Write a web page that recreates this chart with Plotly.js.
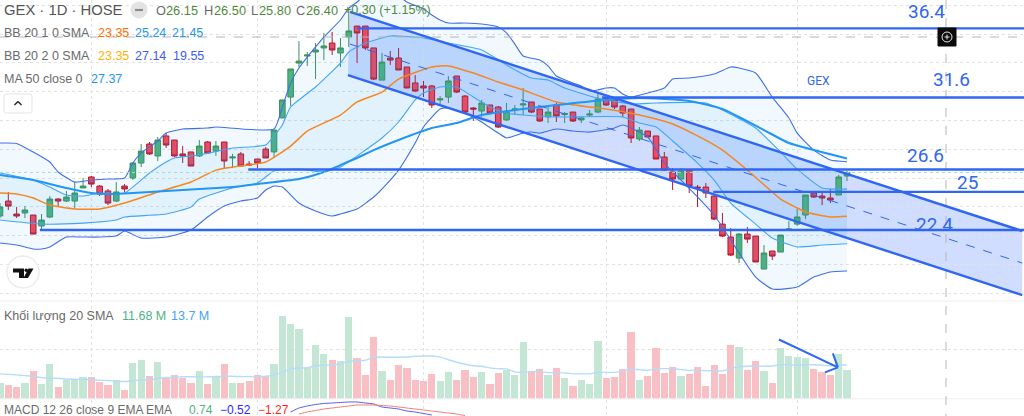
<!DOCTYPE html>
<html><head><meta charset="utf-8">
<script src="https://cdn.plot.ly/plotly-3.0.1.min.js"></script>
<style>html,body{margin:0;padding:0;background:#fff;overflow:hidden}#c{width:1024px;height:416px}</style>
</head><body><div id="c"></div>
<script>
const barOpen=[23.37,24.41,23.51,23.58,23.44,22.68,23.30,24.55,24.41,24.41,25.32,26.08,25.45,25.11,24.41,25.45,26.01,27.05,28.37,27.54,28.93,28.65,27.68,27.82,27.54,28.51,27.88,28.51,27.40,27.68,26.98,27.33,28.02,27.82,30.18,31.63,33.99,34.48,34.76,35.04,35.38,34.69,35.80,36.56,36.56,35.04,32.81,34.34,34.34,33.72,32.61,32.40,32.40,31.43,31.63,33.09,31.70,30.87,30.66,31.08,30.94,30.04,30.73,31.08,31.29,30.80,30.25,31.08,30.42,30.59,30.04,30.38,30.59,31.56,31.43,31.01,30.80,28.72,29.27,28.93,27.47,26.43,25.94,26.56,25.38,25.38,24.76,22.81,21.91,20.45,22.12,21.98,19.69,20.94,20.87,22.40,22.81,23.44,24.97,24.76,24.62,24.83,26.15];
const barClose=[24.00,24.06,23.37,23.79,22.12,23.09,24.55,24.41,24.69,24.97,25.45,25.59,24.90,24.27,25.04,25.25,27.05,27.88,27.68,28.65,28.30,27.54,27.54,26.84,28.23,27.75,28.23,27.19,27.47,26.84,26.91,27.05,27.40,29.34,31.43,33.58,34.13,34.55,34.90,35.18,34.90,35.04,36.22,36.08,35.04,32.88,34.06,34.20,33.51,32.26,32.05,32.26,31.08,31.50,32.75,31.98,30.59,30.80,31.22,30.52,29.55,30.59,30.80,31.15,30.59,29.97,30.59,30.32,30.49,29.97,30.18,30.45,31.50,31.08,30.94,30.52,28.79,29.34,28.86,27.33,26.56,25.94,26.49,25.45,25.32,24.97,23.16,21.98,20.66,22.12,21.77,20.18,20.80,20.59,22.05,22.47,23.30,24.83,24.69,24.62,24.48,26.08,26.40];
const barHigh=[24.27,25.04,24.00,24.06,23.44,23.51,24.76,24.62,25.11,25.73,26.01,26.15,25.52,25.25,25.73,25.59,27.12,28.37,28.51,28.86,29.13,28.65,28.23,27.82,28.65,28.58,28.58,28.51,27.68,27.82,27.19,27.33,28.16,29.34,31.43,33.58,35.52,34.76,35.38,36.08,36.15,35.73,37.81,36.56,36.56,35.04,34.69,34.83,35.04,33.72,33.16,32.75,32.47,31.70,33.09,33.09,31.77,30.94,31.43,31.08,31.01,31.22,31.08,32.26,31.29,30.80,30.94,31.22,30.59,30.59,30.25,30.73,31.91,31.56,31.43,31.08,30.80,29.55,29.27,28.93,27.82,26.70,26.70,26.56,25.52,25.66,24.76,23.58,22.54,22.19,22.61,21.98,21.36,20.94,22.05,23.02,23.86,24.83,24.97,25.11,25.25,26.22,26.50];
const barLow=[23.23,23.79,23.23,23.23,22.12,22.40,23.23,24.00,24.34,23.93,25.32,25.38,24.76,24.13,24.34,25.04,25.87,26.77,27.61,27.19,28.09,27.47,27.05,26.84,27.47,27.75,27.54,26.70,26.70,26.84,26.84,26.70,27.40,27.47,30.18,31.01,33.72,33.79,32.88,34.20,34.55,33.72,35.11,33.99,34.90,32.81,32.81,33.86,33.51,32.26,31.98,31.63,30.87,31.15,31.22,31.91,30.52,29.97,30.25,30.45,29.48,29.97,30.45,30.38,30.52,29.90,29.83,29.90,29.83,29.90,29.83,30.25,30.52,31.01,30.80,30.25,28.44,28.58,28.86,27.33,26.49,25.18,25.94,24.97,24.00,24.62,23.09,21.91,20.59,20.11,21.50,20.18,19.69,20.32,20.87,22.40,22.68,23.16,24.62,24.13,24.27,24.83,25.80];
const volumeM=[6.2,5.5,4.6,6.2,11.1,5.8,14.2,4.6,7.5,8.2,8.9,8.9,6.8,5.5,7.5,3.5,14.5,15.6,9.1,14.8,8.6,9.8,8.5,6.6,11.1,5.9,9.1,14.0,6.2,6.2,7.2,9.5,9.1,14.2,33.7,30.1,28.3,12.9,21.6,18.3,15.6,15.2,33.0,16.5,9.7,25.2,11.3,7.8,13.6,12.5,7.8,7.1,9.9,7.1,10.9,7.8,11.7,8.9,10.9,5.8,10.3,11.8,9.7,23.2,11.1,11.9,9.5,12.3,8.3,5.0,7.8,6.0,23.6,8.3,8.9,11.9,27.2,7.5,9.1,20.4,10.6,12.8,9.1,10.1,12.8,5.1,13.6,10.1,21.6,20.8,11.7,15.3,11.4,6.6,20.4,17.3,17.0,16.4,11.9,10.9,9.7,18.0,11.68];
const volumeSma=[10.1,9.9,9.7,9.4,9.1,8.6,8.3,8.3,7.9,7.9,7.8,7.8,7.5,7.4,7.1,7.0,7.4,7.5,7.8,8.1,8.6,8.7,8.9,8.9,8.9,8.9,9.0,9.1,9.1,9.0,9.0,9.0,9.1,9.7,10.7,12.1,12.5,12.5,13.4,13.6,13.7,14.2,15.2,15.3,15.6,16.8,16.9,16.8,16.8,16.9,17.2,17.3,17.3,16.9,15.8,14.8,14.0,13.4,13.2,12.5,12.2,12.1,10.9,10.7,11.1,11.0,10.6,10.6,10.5,10.1,10.1,10.1,10.7,10.7,10.7,11.3,11.8,11.8,11.5,12.1,12.2,12.2,11.8,11.5,11.5,11.4,11.3,11.3,12.3,13.0,13.2,13.3,13.2,13.3,13.8,13.8,13.6,13.8,13.8,13.6,13.4,13.6,13.7];

const bbOuterUpperAt=[0,2,4,6,7,9,11,13,15,16,17,19,20,22,25,26,33,34,35,36,38,39,41,42,43,44,46,48,49,51,52,53,54,56,58,60,61,62,63,65,66,67,69,70,71,72,73,74,75,76,78,80,81,83,86,88,89,91,93,95,96,98,100,102];
const bbOuterUpper=[28.44,28.41,27.81,27.12,26.43,25.73,25.87,25.94,26.01,27.05,27.75,28.58,29.13,29.41,29.48,29.55,29.41,30.94,32.61,33.65,35.11,35.80,36.98,37.81,38.23,38.72,38.93,38.65,38.23,37.74,37.33,36.98,36.77,36.77,36.70,36.49,36.08,35.31,34.48,34.20,33.79,33.09,32.61,32.40,32.05,32.12,32.26,32.26,31.84,31.63,31.91,32.26,32.88,32.95,33.23,33.72,33.65,33.30,31.63,30.18,29.13,27.95,27.26,27.14];
const bbOuterLowerAt=[0,2,4,5,6,8,10,12,14,15,17,20,23,25,27,29,31,32,33,34,36,38,40,41,43,45,47,48,50,51,53,54,56,58,60,61,63,64,65,67,69,71,74,75,78,80,82,84,86,88,91,93,96,98,100,102];
const bbOuterLower=[21.50,21.36,21.08,21.08,21.22,21.91,21.91,21.91,21.98,22.33,21.84,21.91,22.40,23.30,24.06,24.41,24.62,25.18,25.45,25.38,24.27,23.72,23.37,23.51,23.86,24.69,25.87,26.56,28.44,29.55,30.80,30.87,30.52,29.90,29.13,28.79,29.13,29.20,29.13,29.41,29.27,29.20,29.48,29.69,28.86,27.05,25.87,24.69,23.44,21.70,19.13,18.30,18.44,19.13,19.48,19.55];
const bbInnerUpperAt=[0,4,6,8,10,12,15,18,20,21,24,28,32,33,34,35,38,41,42,44,47,51,54,58,61,64,66,68,72,76,79,85,87,91,94,96,99,102];
const bbInnerUpper=[26.36,25.87,25.38,24.83,24.76,24.97,24.97,26.36,27.12,27.40,27.61,28.09,28.30,28.93,29.69,30.94,32.33,33.99,34.76,35.38,35.87,35.73,35.38,34.90,33.86,32.95,32.81,32.26,31.56,31.15,31.22,31.22,30.73,29.48,27.81,26.63,25.32,25.24];
const bbInnerLowerAt=[0,5,10,14,15,20,23,24,28,31,33,36,39,41,44,46,48,50,51,53,55,57,59,61,63,67,75,77,79,81,84,86,88,91,93,96,99,102];
const bbInnerLower=[23.09,22.81,22.88,23.09,23.30,23.51,24.00,24.55,25.32,25.66,26.50,26.63,26.43,26.77,27.95,28.79,29.90,31.43,31.91,32.33,32.33,31.63,30.94,30.52,30.38,30.25,30.25,29.83,29.55,28.58,27.05,25.87,24.27,22.81,21.84,21.22,21.36,21.45];
const basisAt=[0,2,4,6,9,12,15,19,23,26,28,32,35,37,41,43,46,48,52,54,57,60,63,67,71,73,77,81,84,87,90,94,96,97,100,102];
const basis=[24.97,24.90,24.62,24.13,23.86,23.86,24.27,25.04,25.73,26.56,26.77,27.12,28.23,29.27,30.38,31.29,31.98,32.88,33.72,33.79,33.30,32.68,32.12,31.29,30.94,30.80,30.38,29.76,28.93,27.95,26.56,24.55,23.93,23.65,23.30,23.35];
const ma50At=[0,4,8,11,13,16,20,24,28,32,36,39,41,43,45,48,52,55,58,64,67,73,77,83,87,92,95,102];
const ma50=[26.22,25.87,25.32,24.97,24.90,24.97,25.11,25.25,25.38,25.66,25.94,26.43,26.91,27.40,27.95,28.65,29.48,29.83,30.38,30.87,31.08,31.43,31.56,31.36,30.80,29.34,28.44,27.37];
const macdAt=[35,36,37,38,39,40,41,42,43,44,45,46,47,48,49,50,51,52];
const macdLine=[1.8,2.6,3.0,3.3,3.5,3.6,3.7,3.8,3.8,3.6,3.4,2.8,2.6,2.4,2.0,1.8,1.5,1.2];
const signalAt=[36,37,38,39,40,41,42,43,44,45,46,47,48,49,50,51,52,53,54,55,56];
const signalLine=[1.4,1.8,2.1,2.4,2.6,2.8,3.0,3.2,3.2,3.2,3.1,3.0,2.8,2.6,2.4,2.2,2.0,1.8,1.6,1.4,1.1];

const levels=[36.4,31.6,26.6,25.05,22.4];
const levelStarts=[43,72.5,29.9,85.9,4.8];
const levelLabels=['36.4','31.6','26.6','25','22.4'];
const gridBars=[11,31,51,73,96];

const idx=barOpen.map((_,i)=>i);
const W=1024,H=416;
const BLUE='#2f66f2';
const up=idx.map(i=>barClose[i]>=barOpen[i]);
const px=x=>x/W, py=y=>1-y/H;
const line=(x,y,color,width,extra)=>Object.assign({x,y,type:'scatter',mode:'lines',line:{color,width,shape:'spline',smoothing:0.5},hoverinfo:'skip',showlegend:false,xaxis:'x',yaxis:'y'},extra||{});

const traces=[
 line(bbOuterLowerAt,bbOuterLower,'#3f6fe8',1.1),
 line(bbOuterUpperAt,bbOuterUpper,'#3f6fe8',1.1,{fill:'tonexty',fillcolor:'rgba(33,150,243,0.06)'}),
 line(bbInnerLowerAt,bbInnerLower,'#42a5f5',1.1),
 line(bbInnerUpperAt,bbInnerUpper,'#42a5f5',1.1,{fill:'tonexty',fillcolor:'rgba(33,150,243,0.07)'}),
 line(basisAt,basis,'#f7861f',1.5),
 line(ma50At,ma50,'#2196f3',2),
 {type:'candlestick',x:idx,open:barOpen,high:barHigh,low:barLow,close:barClose,xaxis:'x',yaxis:'y',hoverinfo:'skip',showlegend:false,
  increasing:{line:{color:'#3f9057',width:1},fillcolor:'#4db380'},
  decreasing:{line:{color:'#b3162b',width:1},fillcolor:'#ee4a5e'}},
 {type:'bar',x:idx,y:volumeM,xaxis:'x',yaxis:'y2',width:0.87,hoverinfo:'skip',showlegend:false,
  marker:{color:up.map(u=>u?'#c3e6d5':'#f8bfc4'),line:{width:0}}},
 line(idx,volumeSma,'#b5dcfa',1.4,{yaxis:'y2'}),
 line(macdAt,macdLine,'#5a5ae8',1,{yaxis:'y3'}),
 line(signalAt,signalLine,'#f47a7a',1,{yaxis:'y3'})
];

const seg=(x0,y0,x1,y1,color,width,dash,yref)=>({type:'line',xref:'x',yref:yref||'y',x0,y0,x1,y1,layer:'above',line:{color,width,dash:dash||'solid'}});
const ui=(x0,y0,x1,y1,color,width,dash)=>({type:'line',xref:'paper',yref:'paper',x0:px(x0),y0:py(y0),x1:px(x1),y1:py(y1),layer:'above',line:{color,width,dash:dash||'solid'}});
const box=(t,x0,y0,x1,y1,fill,lc,lw)=>({type:t,xref:'paper',yref:'paper',x0:px(x0),y0:py(y0),x1:px(x1),y1:py(y1),layer:'above',fillcolor:fill,line:{color:lc,width:lw}});

const shapes=[
 ui(0,301,1024,301,'#eeeeee',1),
 ui(0,398.8,1024,398.8,'#eeeeee',1),
 ui(0,172.4,1024,172.4,'#a6dcc0',1,'dot'),
 ui(0,37,1024,37,'#b5b5b5',1,'dash'),
 ui(946,0,946,416,'#b5b5b5',1,'dash'),
 {type:'path',xref:'x',yref:'y',layer:'below',path:'M 41.9 33.16 L 42.15 37.54 L 123.1 22.33 L 123.1 17.88 Z',fillcolor:'rgba(41,98,255,0.22)',line:{width:0}},
 seg(42.15,37.54,123.1,22.33,BLUE,2.4),
 seg(41.9,33.16,123.1,17.88,BLUE,2.4),
 seg(42.15,35.31,123.1,20.11,BLUE,1,'dash'),
 ...levels.map((v,k)=>seg(levelStarts[k],v,124,v,BLUE,2.4)),
 seg(93.8,24.0,100.9,12.75,BLUE,2,'solid','y2'),
 seg(100.3,18.4,100.9,12.75,BLUE,2,'solid','y2'),
 seg(99.35,10.7,100.9,12.75,BLUE,2,'solid','y2'),
 box('rect',938,28,956,46,'#0b0b0b','#0b0b0b',1),
 box('circle',942,32,952,42,'rgba(0,0,0,0)','#e8e8e8',1),
 ui(944.5,37,949.5,37,'#e8e8e8',1),
 ui(947,34.5,947,39.5,'#e8e8e8',1),
 box('circle',131,2,147,18,'#e3e3e3','#e3e3e3',1),
 ui(135,10,143,10,'#8c8c8c',2.2),
 box('circle',7,256,39,288,'#ffffff','#ececec',1.5),
 {type:'path',xref:'paper',yref:'paper',layer:'above',fillcolor:'#111',line:{width:0},
  path:`M ${px(13)} ${py(268.5)} L ${px(24)} ${py(268.5)} L ${px(24)} ${py(278)} L ${px(19)} ${py(278)} L ${px(19)} ${py(272.5)} L ${px(13)} ${py(272.5)} Z`},
 box('circle',24.5,268.5,28,272,'#111','#111',0),
 {type:'path',xref:'paper',yref:'paper',layer:'above',fillcolor:'#111',line:{width:0},
  path:`M ${px(28.5)} ${py(268.5)} L ${px(33.5)} ${py(268.5)} L ${px(28)} ${py(278)} L ${px(23.5)} ${py(278)} Z`},
 {type:'path',xref:'paper',yref:'paper',layer:'above',fillcolor:'#ffffff',line:{color:'#e5e5e5',width:1},
  path:`M ${px(6)} ${py(94)} L ${px(30)} ${py(94)} Q ${px(32)} ${py(94)} ${px(32)} ${py(96)} L ${px(32)} ${py(111)} Q ${px(32)} ${py(113)} ${px(30)} ${py(113)} L ${px(6)} ${py(113)} Q ${px(4)} ${py(113)} ${px(4)} ${py(111)} L ${px(4)} ${py(96)} Q ${px(4)} ${py(94)} ${px(6)} ${py(94)} Z`},
 ui(14.5,105,18,101.5,'#222',1.4),
 ui(18,101.5,21.5,105,'#222',1.4)
];

const FONT='"Liberation Sans", Arial, sans-serif';
const txt=(x,y,text,color,size,fam)=>({xref:'paper',yref:'paper',x:px(x),y:py(y),text,showarrow:false,xanchor:'left',yanchor:'middle',borderpad:0,borderwidth:0,
  font:{family:fam||FONT,size,color}});
const GRAY='#6a6a6a', G='#4f8a3c';
const annotations=[
 txt(4,10,'GEX · 1D · HOSE','#555',14.8),
 txt(156,10,'O',GRAY,12.8),txt(166,10,'26.15',G,12.8),
 txt(204,10,'H',GRAY,12.8),txt(214,10,'26.50',G,12.8),
 txt(251,10,'L',GRAY,12.8),txt(259,10,'25.80',G,12.8),
 txt(296,10,'C',GRAY,12.8),txt(306,10,'26.40',G,12.8),
 txt(344,10,'+0.30 (+1.15%)',G,12.6),
 txt(4,33,'BB 20 1 0 SMA',GRAY,12.5),txt(98,33,'23.35','#ff6d00',12.5),txt(135,33,'25.24','#2196f3',12.5),txt(172,33,'21.45','#2196f3',12.5),
 txt(4,56,'BB 20 2 0 SMA',GRAY,12.5),txt(98,56,'23.35','#ffb300',12.5),txt(135,56,'27.14','#3d5afe',12.5),txt(173,56,'19.55','#3d5afe',12.5),
 txt(4,79,'MA 50 close 0',GRAY,12.5),txt(91,79,'27.37','#2196f3',12.5),
 txt(4,316,'Khối lượng 20 SMA',GRAY,12.5),txt(122,316,'11.68 M','#4fb286',12.5),txt(171,316,'13.7 M','#42a5f5',12.5),
 txt(4,409.5,'MACD 12 26 close 9 EMA EMA',GRAY,12),txt(189,409.5,'0.74','#4fb286',12),txt(220,409.5,'−0.52','#2b2bff',12),txt(258,409.5,'−1.27','#ff1f1f',12),
 txt(908,11,levelLabels[0],BLUE,19,'Roboto'),
 txt(933,79,levelLabels[1],BLUE,19,'Roboto'),
 txt(907,155,levelLabels[2],BLUE,19,'Roboto'),
 txt(957,182,levelLabels[3],BLUE,19,'Roboto'),
 txt(916,224,levelLabels[4],BLUE,19,'Roboto'),
 txt(807,81,'GEX',BLUE,12,'Roboto')
];

const hidden={showline:false,zeroline:false,showticklabels:false,ticks:'',fixedrange:true};
const layout={width:W,height:H,margin:{l:0,r:0,t:0,b:0},paper_bgcolor:'#fff',plot_bgcolor:'#fff',showlegend:false,bargap:0,boxgap:0.18,boxgroupgap:0.18,
 xaxis:Object.assign({},hidden,{range:[0,W/8.304],type:'linear',domain:[0,1],rangeslider:{visible:false},tickmode:'array',tickvals:gridBars,showgrid:true,gridcolor:'#e2e2e2',griddash:'dot',gridwidth:1,anchor:'y'}),
 yaxis:Object.assign({},hidden,{domain:[116/416,1],range:[17.54,38.37],dtick:2,tick0:0,showgrid:true,gridcolor:'#e2e2e2',griddash:'dot',gridwidth:1}),
 yaxis2:Object.assign({},hidden,{domain:[17.2/416,116/416],range:[0,40],tickmode:'array',tickvals:[20,40],showgrid:true,gridcolor:'#e2e2e2',griddash:'dot',gridwidth:1}),
 yaxis3:Object.assign({},hidden,{domain:[0,16/416],range:[1.0,4.2],showgrid:false}),
 shapes,annotations};
Plotly.newPlot('c',traces,layout,{displayModeBar:false,staticPlot:true});
</script></body></html>
